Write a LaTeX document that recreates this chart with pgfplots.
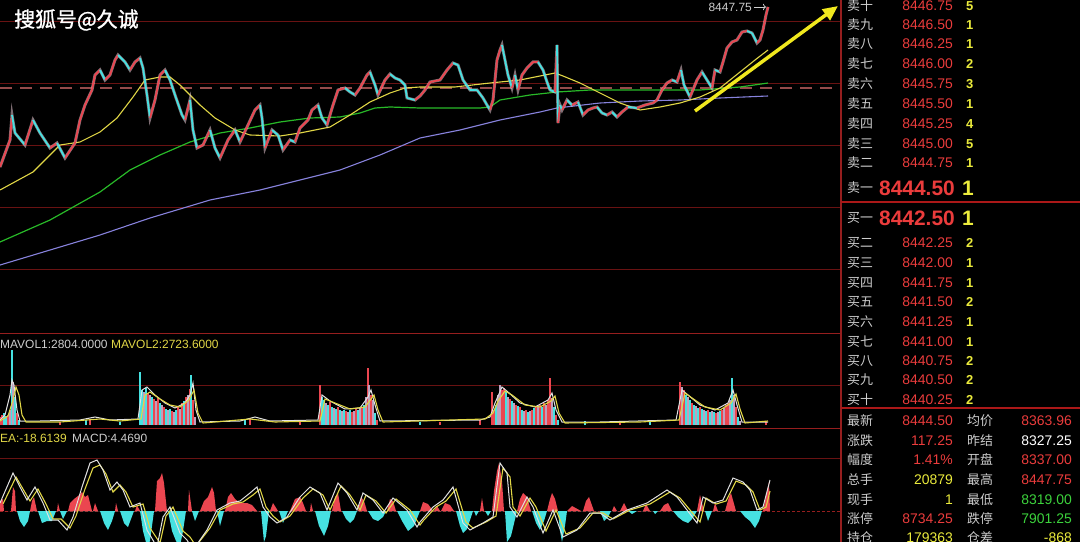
\documentclass[border=0pt]{standalone}
\usepackage{pgfplots}
\pgfplotsset{compat=1.18}
\usepackage{fontspec}
\setmainfont{Liberation Sans}
\newfontfamily\cjk{Noto Sans CJK SC}
\newfontfamily\cjkb[FakeBold=1.2]{Noto Sans CJK SC}
\usetikzlibrary{arrows.meta}
\definecolor{gridc}{RGB}{105,18,18}
\definecolor{bordc}{RGB}{150,30,30}
\definecolor{dashc}{RGB}{150,75,75}
\definecolor{lblc}{RGB}{205,205,205}
\definecolor{prc}{RGB}{235,60,60}
\definecolor{qyc}{RGB}{235,235,60}
\definecolor{grc}{RGB}{60,210,60}
\definecolor{maY}{RGB}{225,215,70}
\definecolor{maG}{RGB}{40,185,40}
\definecolor{maP}{RGB}{135,130,220}
\definecolor{arrc}{RGB}{240,232,30}
\definecolor{upc}{RGB}{235,70,80}
\definecolor{dnc}{RGB}{70,225,225}
\definecolor{vgc}{RGB}{190,160,190}
\definecolor{wln}{RGB}{225,225,225}
\definecolor{wick}{RGB}{230,200,210}
\pgfplotsset{panel/.style={scale only axis, axis lines=none, ticks=none, xmin=0, xmax=841, width=841bp, anchor=north west}}
\newcommand{\obrow}[4]{%
 \node[anchor=base west,inner sep=0,text=lblc,font=\cjk\fontsize{13}{13}\selectfont] at (847bp,-#1bp) {#2};
 \node[anchor=base east,inner sep=0,text=prc,font=\fontsize{14}{14}\selectfont] at (953bp,-#1bp) {#3};
 \node[anchor=base west,inner sep=0,text=qyc,font=\bfseries\fontsize{13}{13}\selectfont] at (966bp,-#1bp) {#4};}
\newcommand{\strow}[7]{%
 \node[anchor=base west,inner sep=0,text=lblc,font=\cjk\fontsize{13}{13}\selectfont] at (847bp,-#1bp) {#2};
 \node[anchor=base east,inner sep=0,font=\fontsize{14}{14}\selectfont] at (953bp,-#1bp) {\textcolor{#4}{#3}};
 \node[anchor=base west,inner sep=0,text=lblc,font=\cjk\fontsize{13}{13}\selectfont] at (967bp,-#1bp) {#5};
 \node[anchor=base east,inner sep=0,font=\fontsize{14}{14}\selectfont] at (1072bp,-#1bp) {\textcolor{#7}{#6}};}
\pgfplotstableread{
x y c
0 8367.75 1
10 8381.25 1
12 8393.75 0
15 8384.75 0
25 8378.75 1
33 8391.25 0
40 8384.75 0
50 8377.25 1
57 8379.75 0
65 8372.25 1
75 8379.75 1
80 8391.25 1
85 8398.75 1
92 8406.25 1
95 8413.75 1
100 8416.25 0
105 8411.25 1
110 8413.75 1
115 8421.25 1
118 8423.75 0
125 8420.25 0
130 8416.25 1
135 8420.25 1
140 8422.25 0
143 8417.25 0
147 8403.75 0
150 8392.25 1
155 8401.25 1
160 8413.75 1
165 8416.25 0
170 8411.25 0
175 8403.75 0
182 8393.75 0
185 8391.25 1
190 8401.25 0
193 8386.25 0
197 8377.25 1
203 8378.75 1
210 8386.25 0
215 8377.25 0
220 8372.25 1
228 8381.25 1
235 8386.25 0
240 8380.25 1
248 8388.75 1
255 8396.25 1
260 8398.75 0
262 8392.25 0
265 8377.25 1
272 8386.25 0
278 8383.75 0
283 8376.25 1
290 8381.25 0
295 8380.25 1
300 8387.25 1
308 8391.25 1
312 8396.25 1
318 8398.75 0
322 8392.25 0
327 8388.75 1
333 8398.75 1
338 8406.25 1
345 8407.25 0
350 8405.25 0
355 8403.75 1
360 8407.25 1
367 8413.75 1
370 8415.25 0
375 8408.75 0
378 8403.75 1
385 8411.25 1
390 8414.25 0
395 8412.25 0
400 8411.25 0
405 8408.75 0
407 8402.25 0
415 8401.25 1
420 8403.25 1
425 8406.25 1
430 8410.25 1
440 8411.25 1
447 8416.25 1
453 8419.75 0
458 8418.75 0
463 8411.25 0
470 8406.25 0
477 8406.25 0
483 8402.25 0
487 8398.75 0
490 8396.25 1
493 8401.25 1
495 8411.25 1
497 8421.25 1
500 8426.25 1
502 8428.75 0
505 8421.25 0
508 8413.75 0
512 8407.25 1
515 8413.75 0
518 8406.25 1
522 8413.75 1
527 8417.25 1
533 8420.25 1
538 8420.25 0
543 8416.25 0
547 8410.25 0
550 8406.25 0
555 8405.25 1
557 8428.75 0
558 8389.75 1
560 8398.75 0
562 8396.25 1
567 8401.25 0
572 8398.75 1
578 8400.25 0
583 8393.75 1
588 8396.25 1
593 8397.25 1
597 8397.75 0
602 8394.75 0
607 8393.75 1
612 8395.25 0
617 8392.75 1
622 8395.25 1
628 8397.75 0
637 8397.25 1
645 8398.75 1
653 8399.75 1
657 8401.25 1
662 8406.25 1
667 8409.75 1
672 8411.25 0
677 8410.25 1
681 8416.25 0
684 8408.75 0
690 8402.75 1
697 8411.25 1
702 8415.25 0
707 8411.25 0
712 8407.25 1
715 8416.25 0
720 8415.25 1
723 8420.25 1
727 8427.25 1
732 8430.25 1
737 8431.25 1
742 8435.25 1
747 8435.75 0
752 8434.75 0
757 8429.75 1
760 8431.25 1
763 8436.25 1
766 8443.75 1
768 8447.75 1
}\pricetab
\begin{document}
\begin{tikzpicture}
\fill[black] (0,0) rectangle (1080bp,-542bp);
\useasboundingbox (0,0) rectangle (1080bp,-542bp);
% grid and panel lines
\foreach \yy in {21,83,145,207,269,385,458}{\draw[gridc,line width=1bp] (0,-\yy bp) -- (841bp,-\yy bp);}
\draw[dashc,line width=1.3bp,dash pattern=on 12bp off 8bp] (0,-88bp) -- (841bp,-88bp);
\draw[bordc,line width=1bp] (0,-333bp) -- (841bp,-333bp);
\draw[bordc,line width=1bp] (0,-428bp) -- (841bp,-428bp);
\draw[bordc,line width=1bp,densely dashed] (0,-511bp) -- (841bp,-511bp);
\draw[bordc,line width=1.2bp] (841bp,0) -- (841bp,-542bp);
\draw[bordc!80!red,line width=1.2bp] (841bp,-202bp) -- (1080bp,-202bp);
\draw[bordc!80!red,line width=1.2bp] (841bp,-408bp) -- (1080bp,-408bp);

% ---------- price panel ----------
\begin{axis}[panel, at={(0,0)}, height=333bp, ymin=8284.75, ymax=8451.25]
\addplot[maP, line width=1.1bp] coordinates {(0,8318.75)(100,8333.75)(150,8342.25)(210,8351.25)(260,8356.25)(300,8361.25)(340,8366.25)(380,8373.75)(420,8382.25)(460,8386.25)(500,8391.25)(540,8395.25)(557,8397.25)(600,8399.75)(640,8400.75)(680,8401.25)(720,8402.25)(768,8403.25)};
\addplot[maG, line width=1.2bp] coordinates {(0,8330.25)(50,8341.25)(100,8355.25)(130,8366.25)(160,8373.75)(190,8380.25)(220,8384.75)(250,8387.25)(280,8390.25)(310,8392.25)(340,8392.75)(360,8394.75)(375,8397.25)(390,8397.75)(420,8397.25)(480,8397.25)(490,8397.75)(500,8401.25)(530,8403.75)(557,8405.25)(590,8406.25)(660,8406.25)(700,8406.25)(740,8407.75)(768,8409.75)};
\addplot[maY, line width=1.1bp] coordinates {(0,8356.25)(33,8365.25)(50,8373.75)(60,8378.75)(80,8380.25)(100,8385.25)(117,8392.25)(133,8402.75)(145,8411.25)(160,8412.75)(170,8412.75)(180,8408.75)(200,8398.75)(215,8392.25)(235,8386.25)(250,8383.75)(280,8383.25)(300,8384.75)(330,8387.75)(350,8393.75)(370,8400.25)(390,8404.75)(405,8407.25)(420,8407.75)(455,8407.75)(490,8409.75)(520,8411.25)(555,8414.75)(563,8413.25)(580,8409.75)(600,8404.75)(620,8399.75)(640,8396.25)(660,8397.75)(680,8399.75)(700,8402.75)(720,8407.25)(740,8415.25)(755,8421.25)(768,8426.25)};
\addplot[wick, line width=3bp, opacity=0.55] table[x=x,y=y] {\pricetab};
\addplot[mesh, shader=flat corner, point meta=explicit, point meta min=0, point meta max=1,
  colormap={rc}{rgb255=(70,225,225) rgb255=(235,70,80)}, line width=1.8bp]
 table[x=x,y=y,meta=c] {\pricetab};
\end{axis}

% ---------- volume panel ----------
\begin{axis}[panel, at={(0,-334bp)}, height=94bp, ymin=-300, ymax=9100]
\addplot[ycomb, upc, line width=1.4bp, mark=none] coordinates {(0,800)(2,1000)(8,1000)(17,1200)(148,3200)(154,2600)(158,2700)(164,1800)(172,1400)(178,1800)(182,2200)(186,2800)(190,3600)(193,2500)(320,4000)(330,2300)(338,1800)(346,1400)(352,1300)(356,1600)(362,1700)(368,5700)(371,3000)(377,500)(492,3300)(494,1500)(502,3500)(504,3700)(510,2600)(516,2000)(520,1800)(526,1500)(532,1500)(536,1800)(540,2000)(544,2200)(548,2500)(550,4700)(556,1000)(680,4300)(684,3500)(692,2200)(700,1800)(708,1500)(716,1200)(722,1500)(726,2000)(728,2200)(736,1800)(90,600)(250,700)(480,500)(766,400)(60,300)(300,300)(620,300)(440,300)};
\addplot[ycomb, dnc, line width=1.4bp, mark=none] coordinates {(4,1200)(6,900)(12,7500)(15,2800)(19,500)(140,5300)(142,3500)(146,3700)(152,2800)(160,2200)(166,1600)(170,1600)(176,1500)(184,2400)(191,5000)(322,2800)(324,2500)(328,2000)(332,1800)(336,1600)(340,1500)(344,1500)(350,1500)(358,1500)(364,2000)(375,1200)(496,2000)(506,3300)(512,2400)(518,1900)(522,1500)(528,1300)(534,1700)(542,1800)(554,1800)(558,500)(686,3000)(690,2500)(694,2000)(698,1700)(702,1600)(706,1400)(710,1300)(714,1300)(720,1400)(732,4700)(738,800)(86,500)(245,600)(585,400)(650,300)(120,300)(420,300)};
\addplot[ycomb, vgc, line width=1.4bp, mark=none] coordinates {(10,1500)(13,4300)(144,3300)(150,3000)(156,2400)(162,2000)(168,1500)(174,1300)(180,1600)(188,3000)(195,800)(326,2200)(334,1700)(342,1400)(348,1300)(354,1400)(360,1800)(366,2800)(369,4000)(373,2500)(498,3000)(500,4000)(508,2800)(514,2200)(524,1400)(530,1400)(538,1900)(546,2000)(552,2700)(682,3800)(688,2800)(696,1900)(704,1500)(712,1400)(718,1300)(724,1700)(730,2500)(734,3000)(740,400)};
\addplot[wln, line width=1bp] coordinates {(0,500)(5,1000)(10,3000)(12,4500)(14,4000)(17,1500)(20,400)(40,400)(80,500)(95,800)(110,500)(138,600)(142,3500)(147,3800)(155,3000)(165,2200)(175,1700)(185,2200)(190,3000)(193,4200)(196,1500)(200,300)(240,400)(255,800)(270,400)(318,500)(322,3000)(330,2400)(345,1600)(360,1700)(368,2800)(371,3500)(375,2000)(380,400)(480,500)(490,800)(495,2200)(502,3800)(508,3300)(520,2200)(535,1800)(548,2500)(552,3200)(556,1500)(562,300)(600,300)(676,500)(682,3500)(688,3000)(700,2000)(715,1500)(728,2200)(733,3500)(737,2000)(742,300)(768,300)};
\addplot[maY, line width=1.1bp] coordinates {(0,400)(8,900)(13,2500)(16,3800)(19,3000)(22,1000)(26,300)(60,300)(100,600)(120,400)(141,600)(145,3000)(150,3300)(160,2600)(170,2000)(180,1800)(189,2500)(194,3500)(198,1200)(203,200)(250,600)(275,300)(320,400)(325,2600)(335,2200)(350,1600)(365,1800)(371,2600)(374,3000)(378,1500)(383,300)(485,600)(493,1200)(498,2400)(505,3400)(512,3000)(525,2000)(540,1800)(551,2400)(555,2900)(559,1200)(565,200)(640,300)(679,500)(685,3200)(692,2700)(705,1800)(720,1500)(731,2200)(736,3100)(740,1600)(745,200)(768,400)};
\end{axis}

% ---------- MACD panel ----------
\begin{axis}[panel, at={(0,-428bp)}, height=114bp, ymin=-31, ymax=83]
\addplot[fill=upc, draw=none] coordinates {(0,0)(0,10)(3,12)(4,0)(11,0)(13,24)(15,20)(16,0)(30,0)(32,10)(34,14)(37,0)(57,0)(58,8)(60,0)(68,0)(70,8)(74,12)(78,15)(82,19)(85,14)(88,16)(92,0)(93,0)(95,8)(98,0)(115,0)(116,8)(118,0)(135,0)(137,6)(140,0)(155,0)(157,30)(160,33)(162,38)(164,28)(167,0)(188,0)(189,21)(192,0)(200,0)(204,10)(208,14)(212,24)(214,18)(216,0)(225,0)(228,14)(231,18)(235,12)(240,8)(247,8)(252,6)(257,0)(270,0)(273,8)(278,0)(290,0)(295,12)(300,14)(303,8)(306,0)(310,0)(311,8)(313,0)(332,0)(335,14)(338,18)(341,0)(358,0)(361,14)(364,10)(367,0)(387,0)(390,12)(393,10)(396,0)(420,0)(423,9)(428,7)(433,0)(434,0)(437,5)(440,0)(441,0)(445,8)(450,6)(454,0)(480,0)(482,13)(484,0)(492,0)(494,20)(497,40)(499,48)(502,30)(504,0)(517,0)(520,12)(523,18)(527,14)(531,0)(547,0)(550,12)(552,18)(555,12)(558,0)(567,0)(572,5)(581,0)(583,0)(586,10)(589,14)(594,0)(612,0)(614,5)(617,0)(620,0)(624,8)(628,0)(643,0)(646,7)(650,0)(660,0)(664,6)(668,8)(672,0)(697,0)(700,16)(704,0)(713,0)(715,8)(718,0)(725,0)(729,14)(731,18)(736,0)(763,0)(766,15)(769,29)(770,0)} \closedcycle;
\addplot[fill=dnc, draw=none] coordinates {(17,0)(20,-10)(24,-16)(28,-10)(30,0)(38,0)(42,-12)(47,-10)(52,-10)(56,0)(60,0)(63,-8)(67,0)(100,0)(104,-12)(108,-19)(112,-10)(115,0)(120,0)(124,-12)(128,-16)(131,-8)(134,0)(140,0)(143,-20)(147,-35)(150,-30)(154,0)(168,0)(172,-20)(176,-30)(180,-35)(183,-20)(186,0)(192,0)(195,-10)(199,0)(217,0)(220,-15)(224,0)(261,0)(264,-31)(266,-25)(269,0)(279,0)(283,-12)(288,0)(315,0)(319,-15)(324,-25)(328,-15)(331,0)(342,0)(346,-8)(350,-12)(354,-8)(357,0)(368,0)(373,-8)(378,-10)(383,-6)(386,0)(397,0)(402,-10)(408,-20)(414,-15)(420,0)(456,0)(460,-15)(463,-22)(467,-18)(473,0)(474,0)(476,-5)(479,0)(485,0)(488,-5)(491,0)(505,0)(507,-31)(511,-25)(517,0)(532,0)(536,-12)(540,-19)(544,-10)(547,0)(558,0)(560,-20)(562,-31)(565,-15)(567,0)(600,0)(604,-10)(608,-6)(611,0)(628,0)(632,-3)(637,0)(653,0)(655,-3)(658,0)(673,0)(678,-6)(683,-10)(688,-12)(692,-8)(697,0)(705,0)(708,-10)(712,0)(740,0)(745,-6)(750,-10)(755,-17)(759,-10)(762,0)} \closedcycle;
\addplot[maY, line width=1.1bp] coordinates {(3,7)(16,34)(23,22)(30,10)(38,22)(46,7)(53,-8)(61,-8)(70,-17)(76,-5)(85,22)(93,43)(100,46)(106,37)(113,19)(120,26)(126,19)(133,4)(143,7)(150,-17)(160,-32)(166,-5)(173,4)(183,-20)(190,-26)(196,-35)(210,-17)(220,1)(233,7)(243,9)(253,16)(260,22)(266,4)(273,-5)(280,-11)(290,-5)(303,13)(313,22)(323,16)(330,1)(341,25)(350,16)(360,1)(366,16)(376,10)(386,-2)(396,12)(410,1)(420,-14)(423,-10)(436,4)(446,10)(456,22)(466,-11)(473,-17)(486,-11)(496,-5)(503,43)(510,34)(513,4)(520,-5)(530,13)(536,4)(546,-20)(556,1)(566,-23)(580,-17)(593,-2)(603,-2)(613,-8)(630,1)(650,7)(670,19)(680,13)(690,1)(700,-11)(706,13)(716,7)(726,10)(736,30)(746,26)(753,19)(760,1)(766,4)(770,20)};
\addplot[wln, line width=1bp] coordinates {(0,8)(13,38)(20,24)(27,11)(35,24)(43,8)(50,-9)(58,-9)(67,-19)(73,-6)(82,24)(90,48)(97,51)(103,41)(110,21)(117,29)(123,21)(130,4)(140,8)(147,-19)(157,-36)(163,-6)(170,4)(180,-22)(187,-29)(193,-39)(207,-19)(217,1)(230,8)(240,10)(250,18)(257,24)(263,4)(270,-6)(277,-12)(287,-6)(300,14)(310,24)(320,18)(327,1)(338,28)(347,18)(357,1)(363,18)(373,11)(383,-2)(393,13)(407,1)(417,-16)(420,-11)(433,4)(443,11)(453,24)(463,-12)(470,-19)(483,-12)(493,-6)(500,48)(507,38)(510,4)(517,-6)(527,14)(533,4)(543,-22)(553,1)(563,-26)(577,-19)(590,-2)(600,-2)(610,-9)(627,1)(647,8)(667,21)(677,14)(687,1)(697,-12)(703,14)(713,8)(723,11)(733,33)(743,29)(750,21)(757,1)(763,4)(770,31)};
\end{axis}

% annotations
\draw[arrc, line width=3.5bp, -{Triangle[length=15bp,width=13bp]}] (695bp,-111bp) -- (838bp,-6bp);
\node[anchor=base east,inner sep=0,text=lblc,font=\fontsize{12}{12}\selectfont] at (752bp,-11bp) {8447.75};
\draw[lblc, line width=0.8bp, -{To[length=3bp]}] (754bp,-7bp) -- (766bp,-7bp);
\node[anchor=base west,inner sep=0,text=white,font=\cjkb\fontsize{21}{21}\selectfont] at (14bp,-27bp) {搜狐号@久诚};
\node[anchor=base west,inner sep=0,text=lblc,font=\fontsize{12}{12}\selectfont] at (0bp,-348bp) {MAVOL1:2804.0000};
\node[anchor=base west,inner sep=0,text=maY,font=\fontsize{12}{12}\selectfont] at (111bp,-348bp) {MAVOL2:2723.6000};
\node[anchor=base west,inner sep=0,text=maY,font=\fontsize{12}{12}\selectfont] at (0bp,-442bp) {EA:-18.6139};
\node[anchor=base west,inner sep=0,text=lblc,font=\fontsize{12}{12}\selectfont] at (72bp,-442bp) {MACD:4.4690};

% order book
\obrow{10}{卖十}{8446.75}{5}
\obrow{29}{卖九}{8446.50}{1}
\obrow{48}{卖八}{8446.25}{1}
\obrow{68}{卖七}{8446.00}{2}
\obrow{88}{卖六}{8445.75}{3}
\obrow{108}{卖五}{8445.50}{1}
\obrow{128}{卖四}{8445.25}{4}
\obrow{148}{卖三}{8445.00}{5}
\obrow{167}{卖二}{8444.75}{1}
\node[anchor=base west,inner sep=0,text=lblc,font=\cjk\fontsize{13}{13}\selectfont] at (847bp,-192bp) {卖一};
\node[anchor=base east,inner sep=0,text=prc,font=\bfseries\fontsize{21}{21}\selectfont] at (955bp,-195bp) {8444.50};
\node[anchor=base west,inner sep=0,text=qyc,font=\bfseries\fontsize{21}{21}\selectfont] at (962bp,-195bp) {1};
\node[anchor=base west,inner sep=0,text=lblc,font=\cjk\fontsize{13}{13}\selectfont] at (847bp,-222bp) {买一};
\node[anchor=base east,inner sep=0,text=prc,font=\bfseries\fontsize{21}{21}\selectfont] at (955bp,-225bp) {8442.50};
\node[anchor=base west,inner sep=0,text=qyc,font=\bfseries\fontsize{21}{21}\selectfont] at (962bp,-225bp) {1};
\obrow{247}{买二}{8442.25}{2}
\obrow{267}{买三}{8442.00}{1}
\obrow{287}{买四}{8441.75}{1}
\obrow{306}{买五}{8441.50}{2}
\obrow{326}{买六}{8441.25}{1}
\obrow{346}{买七}{8441.00}{1}
\obrow{365}{买八}{8440.75}{2}
\obrow{384}{买九}{8440.50}{2}
\obrow{404}{买十}{8440.25}{2}
\strow{425}{最新}{8444.50}{prc}{均价}{8363.96}{prc}
\strow{445}{涨跌}{117.25}{prc}{昨结}{8327.25}{white}
\strow{464}{幅度}{1.41\%}{prc}{开盘}{8337.00}{prc}
\strow{484}{总手}{20879}{qyc}{最高}{8447.75}{prc}
\strow{504}{现手}{1}{qyc}{最低}{8319.00}{grc}
\strow{523}{涨停}{8734.25}{prc}{跌停}{7901.25}{grc}
\strow{542}{持仓}{179363}{qyc}{仓差}{-868}{qyc}
\end{tikzpicture}
\end{document}
